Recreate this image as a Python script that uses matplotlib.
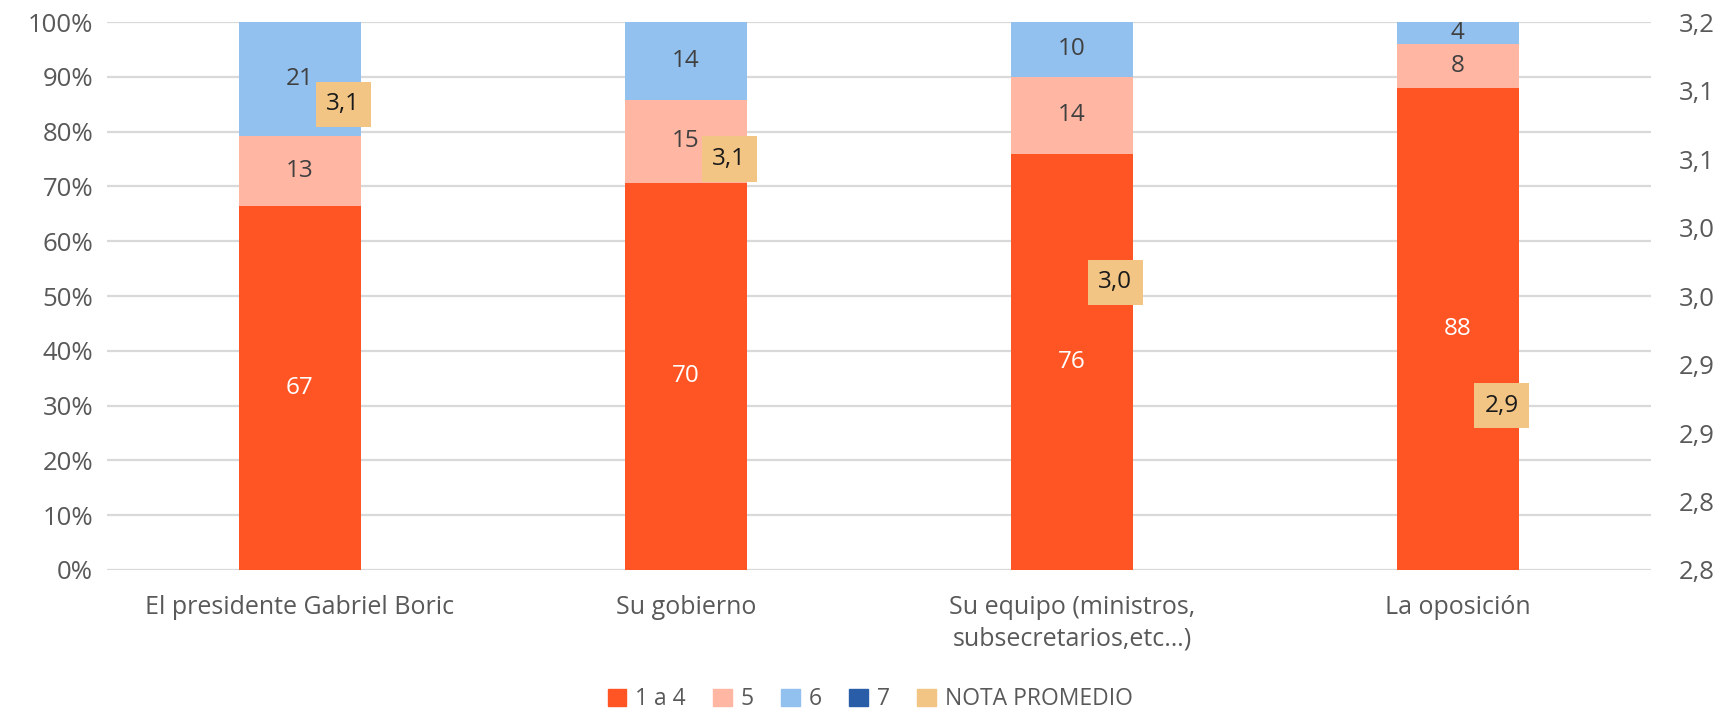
import numpy as np
import matplotlib.pyplot as plt
from matplotlib.patches import Patch

plt.rcParams['font.family'] = ['Open Sans', 'DejaVu Sans']

# === Datos
categorias = ["El presidente Gabriel Boric", "Su gobierno",
              "Su equipo (ministros,\nsubsecretarios,etc…)", "La oposición"]
uno_a_cuatro = [67, 70, 76, 88]
cinco = [13, 15, 14, 8]
seis = [21, 14, 10, 4]
siete = [0, 0, 0, 0]
nota_promedio = [3.14, 3.10, 3.01, 2.92]
nota_ticks = [2.80, 2.85, 2.90, 2.95, 3.00, 3.05, 3.10, 3.15, 3.20]
nota_ticklabels = ["2,8", "2,8", "2,9", "2,9", "3,0", "3,0", "3,1", "3,1", "3,2"]

series = [uno_a_cuatro, cinco, seis, siete]
nombres = ["1 a 4", "5", "6", "7"]
colores = ["#FF5525", "#FFB6A3", "#92C1F0", "#2A5DA8"]
color_txt = ["white", "#404040", "#404040", "white"]
color_nota = "#F2C585"
gris = "#595959"

fig = plt.figure(figsize=(17.3, 7.15), dpi=100)
ax = fig.add_axes([0.0618, 0.2028, 0.8925, 0.7664])
x = np.arange(len(categorias))
tot = np.array(series).sum(axis=0)

# === Barras apiladas al 100%
base = np.zeros(len(categorias))
for s, nom, col, ct in zip(series, nombres, colores, color_txt):
    h = np.array(s) / tot * 100
    ax.bar(x, h, 0.316, bottom=base, color=col, zorder=2)
    for i in range(len(x)):
        if s[i] > 0:
            ax.text(x[i], base[i] + h[i] / 2, str(s[i]), ha="center", va="center",
                    fontsize=17.5, color=ct, zorder=3)
    base = base + h

ax.set_xlim(-0.5, len(categorias) - 0.5)
ax.set_ylim(0, 100)
ax.set_yticks(np.arange(0, 101, 10))
ax.set_yticklabels([f"{v}%" for v in range(0, 101, 10)])
ax.yaxis.grid(True, color="#D9D9D9", linewidth=1.6, zorder=0)
ax.set_axisbelow(True)
ax.set_xticks(x)
ax.set_xticklabels(categorias, fontsize=18, color=gris, linespacing=1.35)
ax.tick_params(axis="x", length=0, pad=18)
ax.tick_params(axis="y", length=0, labelsize=18.5, labelcolor=gris, pad=10)
for sp in ax.spines.values():
    sp.set_visible(False)

# === Eje secundario: nota promedio
ax2 = ax.twinx()
ax2.set_ylim(2.8, 3.2)
ax2.set_yticks(nota_ticks)
ax2.set_yticklabels(nota_ticklabels)
ax2.tick_params(axis="y", length=0, labelsize=18.5, labelcolor=gris, pad=20)
for sp in ax2.spines.values():
    sp.set_visible(False)
for i, v in enumerate(nota_promedio):
    ax2.annotate(f"{v:.1f}".replace(".", ","), (x[i], v), xytext=(19, 0),
                 textcoords="offset points", ha="left", va="center",
                 fontsize=17.5, color="#1a1a1a", zorder=5,
                 bbox=dict(boxstyle="square,pad=0.44", fc=color_nota, ec="none"))

# === Leyenda
handles = [Patch(color=c, label=n) for c, n in zip(colores, nombres)]
handles.append(Patch(color=color_nota, label="NOTA PROMEDIO"))
fig.legend(handles=handles, loc="center", bbox_to_anchor=(0.503, 0.022), ncol=5,
           frameon=False, fontsize=16.5, handlelength=0.8, handleheight=0.8,
           handletextpad=0.4, columnspacing=1.2, labelcolor=gris)

fig.savefig("out.png", dpi=100)
